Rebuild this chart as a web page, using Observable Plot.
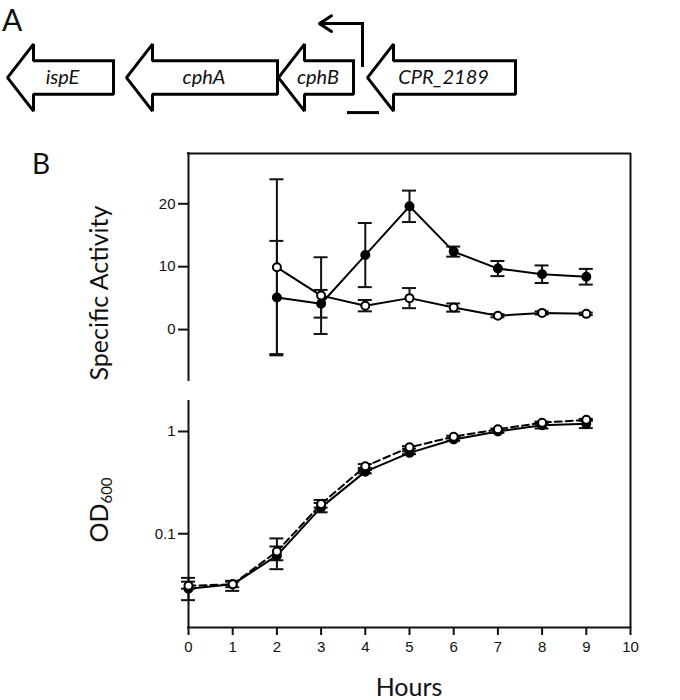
<!DOCTYPE html>
<html><head><meta charset="utf-8">
<script src="https://cdn.jsdelivr.net/npm/d3@7"></script>
<script src="https://cdn.jsdelivr.net/npm/@observablehq/plot@0.6"></script>
<style>
body{margin:0;background:#fff;}
#wrap{position:relative;width:680px;height:700px;overflow:hidden;font-family:Lato,"Open Sans",sans-serif;color:#111;}
#wrap svg{position:absolute;left:0;background:transparent;}
.lbl{position:absolute;line-height:1.2;white-space:nowrap;}
.rot{transform:translate(-50%,-50%) rotate(-90deg);}
.rot sub{font-size:15px;vertical-align:-4px;}
</style></head><body>
<div id="wrap">
  <div class="lbl" style="left:2px;top:1px;font-size:30px;">A</div>
  <div class="lbl" style="left:32px;top:147px;font-size:28px;">B</div>
  <div class="lbl rot" style="left:98px;top:293px;font-size:25px;">Specific Activity</div>
  <div class="lbl rot" style="left:99px;top:510px;font-size:25px;">OD<sub>600</sub></div>
  <div class="lbl" style="left:409px;top:674px;font-size:25px;line-height:1;transform:translateX(-50%);">Hours</div>
</div>
<script>
// ---------- Panel A: gene map (map units) ----------
const geneNames = ["ispE", "cphA", "cphB", "CPR_2189"];
const geneTip   = [0.7, 12.6, 27.8, 36.7];
const geneEnd   = [11.3, 27.7, 35.3, 51.5];
const promoterX = 36.2, promoterBase = 0.36, promoterTop = 1.61, promoterTipX = 31.9;
const fragmentX1 = 34.7, fragmentX2 = 37.9, fragmentY = -1.045;

// ---------- Panel B top: specific activity ----------
const hoursSA     = [2, 3, 4, 5, 6, 7, 8, 9];
const saFilled    = [5.1, 4.1, 11.85, 19.6, 12.4, 9.7, 8.8, 8.4];
const saFilledErr = [9.0, 2.2, 5.1, 2.5, 0.8, 1.2, 1.4, 1.25];
const saOpen      = [9.9, 5.4, 3.8, 5.0, 3.5, 2.2, 2.65, 2.5];
const saOpenErr   = [14.0, 6.1, 0.9, 1.6, 0.65, 0.25, 0.25, 0.2];

// ---------- Panel B bottom: OD600 ----------
const hoursOD    = [0, 1, 2, 3, 4, 5, 6, 7, 8, 9];
const odFilled   = [0.029, 0.032, 0.061, 0.181, 0.405, 0.618, 0.835, 1.0, 1.15, 1.19];
const odFilledLo = [0.0224, 0.0276, 0.045, 0.162, 0.39, 0.60, 0.81, 0.97, 1.07, 1.08];
const odFilledHi = [0.037, 0.0346, 0.075, 0.20, 0.42, 0.64, 0.86, 1.03, 1.23, 1.30];
const odOpen     = [0.031, 0.032, 0.067, 0.195, 0.457, 0.70, 0.89, 1.05, 1.22, 1.30];
const odOpenLo   = [0.029, 0.030, 0.055, 0.18, 0.44, 0.68, 0.87, 1.03, 1.19, 1.27];
const odOpenHi   = [0.034, 0.034, 0.09, 0.214, 0.48, 0.72, 0.91, 1.07, 1.25, 1.33];

const xTicks = [0, 1, 2, 3, 4, 5, 6, 7, 8, 9, 10];
const saTicks = [0, 10, 20];
const odTicks = [0.1, 1];

const wrap = document.getElementById("wrap");
const tickFont = "'Liberation Sans', Arial, sans-serif";

// ---- Panel A ----
const headLen = 2.6, bodyH = 0.5, headH = 1.0;
const genePts = geneNames.flatMap((g, i) => {
  const tip = geneTip[i], end = geneEnd[i], hb = tip + headLen;
  return [[end, bodyH], [hb, bodyH], [hb, headH], [tip, 0], [hb, -headH], [hb, -bodyH], [end, -bodyH], [end, bodyH]]
    .map(([x, y]) => ({gene: g, x, y}));
});
const geneLabels = geneNames.map((g, i) => ({gene: g, x: (geneTip[i] + geneEnd[i]) / 2 + 0.2, y: 0}));

const panelA = Plot.plot({
  width: 680, height: 130, margin: 0,
  x: {domain: [0, 68], axis: null},
  y: {domain: [-1.58, 2.3], axis: null},
  marks: [
    Plot.line(genePts, {x: "x", y: "y", z: "gene", fill: "white", stroke: "black", strokeWidth: 3, strokeLinejoin: "miter", strokeLinecap: "square"}),
    Plot.text(geneLabels, {x: "x", y: "y", text: "gene", fontSize: 20, fontStyle: "italic", fontFamily: "Lato, 'Open Sans', sans-serif", fill: "#111"}),
    Plot.line([{x: promoterX, y: promoterBase}, {x: promoterX, y: promoterTop}], {x: "x", y: "y", stroke: "black", strokeWidth: 3, strokeLinecap: "square"}),
    Plot.arrow([{x1: promoterX, x2: promoterTipX, y: promoterTop}], {x1: "x1", x2: "x2", y1: "y", y2: "y", stroke: "black", strokeWidth: 3, headLength: 8, headAngle: 66}),
    Plot.ruleY([fragmentY], {x1: fragmentX1, x2: fragmentX2, stroke: "black", strokeWidth: 3})
  ]
});
panelA.style.top = "0px";
wrap.appendChild(panelA);

// ---- Panel B top ----
const capHalf = 0.158; // hours
const saF = hoursSA.map((t, i) => ({t, v: saFilled[i], lo: saFilled[i] - saFilledErr[i], hi: saFilled[i] + saFilledErr[i]}));
const saO = hoursSA.map((t, i) => ({t, v: saOpen[i], lo: saOpen[i] - saOpenErr[i], hi: saOpen[i] + saOpenErr[i]}));
const caps = (arr) => arr.flatMap(d => [{t: d.t, v: d.lo}, {t: d.t, v: d.hi}]);

const saDomain = [-8.1, 28];
const topH = 260, topMT = 13, topMB = 20;
const saBreak = saDomain[0] - topMB * (saDomain[1] - saDomain[0]) / (topH - topMT - topMB);

const topPlot = Plot.plot({
  width: 680, height: topH,
  marginLeft: 188, marginRight: 50, marginTop: topMT, marginBottom: topMB,
  x: {domain: [0, 10], axis: null},
  y: {domain: saDomain},
  marks: [
    Plot.axisY({ticks: saTicks, tickSize: 10, tickPadding: 3, fontSize: 15, fontFamily: tickFont, strokeWidth: 2, label: null, fill: "#111"}),
    Plot.ruleX([0], {strokeWidth: 2, strokeLinecap: "square"}),
    Plot.ruleY([saDomain[1]], {strokeWidth: 2, strokeLinecap: "square"}),
    Plot.ruleX([10], {y1: saDomain[1], y2: saBreak, strokeWidth: 2}),
    Plot.line(saF, {x: "t", y: "v", stroke: "black", strokeWidth: 2}),
    Plot.line(saO, {x: "t", y: "v", stroke: "black", strokeWidth: 2}),
    Plot.ruleX(saF, {x: "t", y1: "lo", y2: "hi", strokeWidth: 2}),
    Plot.ruleX(saO, {x: "t", y1: "lo", y2: "hi", strokeWidth: 2}),
    Plot.ruleY(caps(saF), {y: "v", x1: d => d.t - capHalf, x2: d => d.t + capHalf, strokeWidth: 2}),
    Plot.ruleY(caps(saO), {y: "v", x1: d => d.t - capHalf, x2: d => d.t + capHalf, strokeWidth: 2}),
    Plot.dot(saF, {x: "t", y: "v", r: 4, fill: "black", stroke: "black", strokeWidth: 2}),
    Plot.dot(saO, {x: "t", y: "v", r: 4, fill: "white", stroke: "black", strokeWidth: 2})
  ]
});
topPlot.style.top = "140px";
wrap.appendChild(topPlot);

// ---- Panel B bottom ----
const odF = hoursOD.map((t, i) => ({t, v: odFilled[i], lo: odFilledLo[i], hi: odFilledHi[i]}));
const odO = hoursOD.map((t, i) => ({t, v: odOpen[i], lo: odOpenLo[i], hi: odOpenHi[i]}));
const odDomain = [0.0121, 2.01];

const botPlot = Plot.plot({
  width: 680, height: 300,
  marginLeft: 188, marginRight: 50, marginTop: 0, marginBottom: 73,
  x: {domain: [0, 10]},
  y: {type: "log", domain: odDomain},
  marks: [
    Plot.axisY({ticks: odTicks, tickFormat: d => String(d), tickSize: 10, tickPadding: 3, fontSize: 15, fontFamily: tickFont, strokeWidth: 2, label: null, fill: "#111"}),
    Plot.axisX({ticks: xTicks, tickSize: 8, tickPadding: 6, fontSize: 15, fontFamily: tickFont, strokeWidth: 2, label: null, fill: "#111"}),
    Plot.ruleX([0], {strokeWidth: 2, strokeLinecap: "square"}),
    Plot.ruleX([10], {strokeWidth: 2, strokeLinecap: "square"}),
    Plot.ruleY([odDomain[0]], {strokeWidth: 2, strokeLinecap: "square"}),
    Plot.line(odF, {x: "t", y: "v", stroke: "black", strokeWidth: 2}),
    Plot.line(odO, {x: "t", y: "v", stroke: "black", strokeWidth: 2, strokeDasharray: "7,4"}),
    Plot.ruleX(odF, {x: "t", y1: "lo", y2: "hi", strokeWidth: 2}),
    Plot.ruleX(odO, {x: "t", y1: "lo", y2: "hi", strokeWidth: 2}),
    Plot.ruleY(caps(odF), {y: "v", x1: d => d.t - capHalf, x2: d => d.t + capHalf, strokeWidth: 2}),
    Plot.ruleY(caps(odO), {y: "v", x1: d => d.t - capHalf, x2: d => d.t + capHalf, strokeWidth: 2}),
    Plot.dot(odF, {x: "t", y: "v", r: 4, fill: "black", stroke: "black", strokeWidth: 2}),
    Plot.dot(odO, {x: "t", y: "v", r: 4, fill: "white", stroke: "black", strokeWidth: 2})
  ]
});
botPlot.style.top = "400px";
wrap.appendChild(botPlot);
</script>
</body></html>
